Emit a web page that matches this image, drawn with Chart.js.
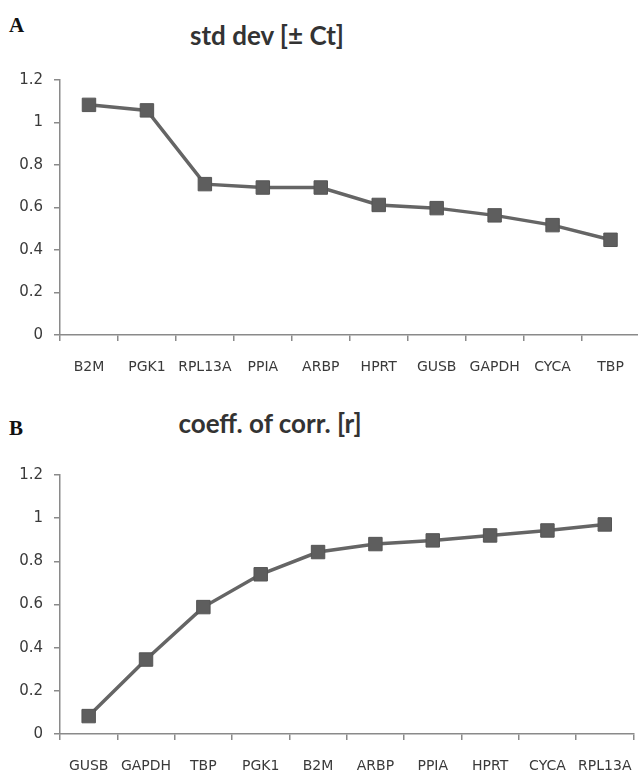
<!DOCTYPE html>
<html>
<head>
<meta charset="utf-8">
<script src="https://cdn.jsdelivr.net/npm/chart.js@4/dist/chart.umd.min.js"></script>
<style>
  html, body { margin: 0; padding: 0; background: #fff; width: 638px; height: 771px; overflow: hidden; position: relative; }
  .panel { position: absolute; font: bold 21px "Liberation Serif", serif; color: #111; }
  .title { position: absolute; font: bold 26px Lato, sans-serif; color: #333; text-align: center; width: 300px; }
  .box { position: absolute; left: 0; width: 650px; }
</style>
</head>
<body>
<div class="panel" style="left:9px; top:13px;">A</div>
<div class="title" style="left:117px; top:19px;">std dev [± Ct]</div>
<div class="box" style="top:60px; height:320px;"><canvas id="chartA"></canvas></div>

<div class="panel" style="left:9px; top:416px;">B</div>
<div class="title" style="left:120px; top:407px;">coeff. of corr. [r]</div>
<div class="box" style="top:455px; height:316px;"><canvas id="chartB"></canvas></div>

<script>
// panel A: standard deviation per gene
const genesA = ['B2M', 'PGK1', 'RPL13A', 'PPIA', 'ARBP', 'HPRT', 'GUSB', 'GAPDH', 'CYCA', 'TBP'];
const stdDev = [1.083, 1.057, 0.71, 0.694, 0.694, 0.612, 0.597, 0.563, 0.517, 0.448];

// panel B: coefficient of correlation per gene
const genesB = ['GUSB', 'GAPDH', 'TBP', 'PGK1', 'B2M', 'ARBP', 'PPIA', 'HPRT', 'CYCA', 'RPL13A'];
const corrCoeff = [0.083, 0.345, 0.588, 0.74, 0.843, 0.88, 0.897, 0.92, 0.943, 0.971];

const yTickLabels = ['0', '0.2', '0.4', '0.6', '0.8', '1', '1.2'];

const AXIS = '#8a8a8a';
const TEXT = '#3a3a3a';

function makeChart(canvasId, labels, values, padTop, xHeight) {
  const canvas = document.getElementById(canvasId);
  return new Chart(canvas, {
    type: 'line',
    data: {
      labels,
      datasets: [{
        data: values,
        borderColor: '#656565',
        borderWidth: 3.5,
        tension: 0,
        pointStyle: 'rect',
        pointRadius: 9.5,
        pointBackgroundColor: '#5e5e5e',
        pointBorderColor: '#555555',
        pointBorderWidth: 1,
        fill: false,
      }],
    },
    options: {
      responsive: true,
      maintainAspectRatio: false,
      devicePixelRatio: 1,
      animation: false,
      layout: { padding: { top: padTop, right: 0, left: 0, bottom: 0 } },
      plugins: { legend: { display: false }, tooltip: { enabled: false } },
      scales: {
        x: {
          type: 'category',
          offset: true,
          afterFit: s => { s.height = xHeight; },
          grid: { offset: true, drawOnChartArea: false, drawTicks: true, tickLength: 6, color: AXIS, lineWidth: 1.5 },
          border: { display: true, color: AXIS, width: 1.5 },
          ticks: {
            color: TEXT,
            padding: 18,
            autoSkip: false,
            maxRotation: 0,
            font: { family: 'DejaVu Sans', size: 14 },
          },
        },
        y: {
          min: 0,
          max: 1.2,
          afterFit: s => { s.width = 60; },
          grid: { drawOnChartArea: false, drawTicks: true, tickLength: 6, color: AXIS, lineWidth: 1.5 },
          border: { display: true, color: AXIS, width: 1.5 },
          ticks: {
            stepSize: 0.2,
            color: TEXT,
            padding: 11,
            font: { family: 'DejaVu Sans', size: 15 },
            callback: (v, i) => yTickLabels[i],
          },
        },
      },
    },
  });
}

makeChart('chartA', genesA, stdDev, 16, 45);
makeChart('chartB', genesB, corrCoeff, 20, 37);
</script>
</body>
</html>
